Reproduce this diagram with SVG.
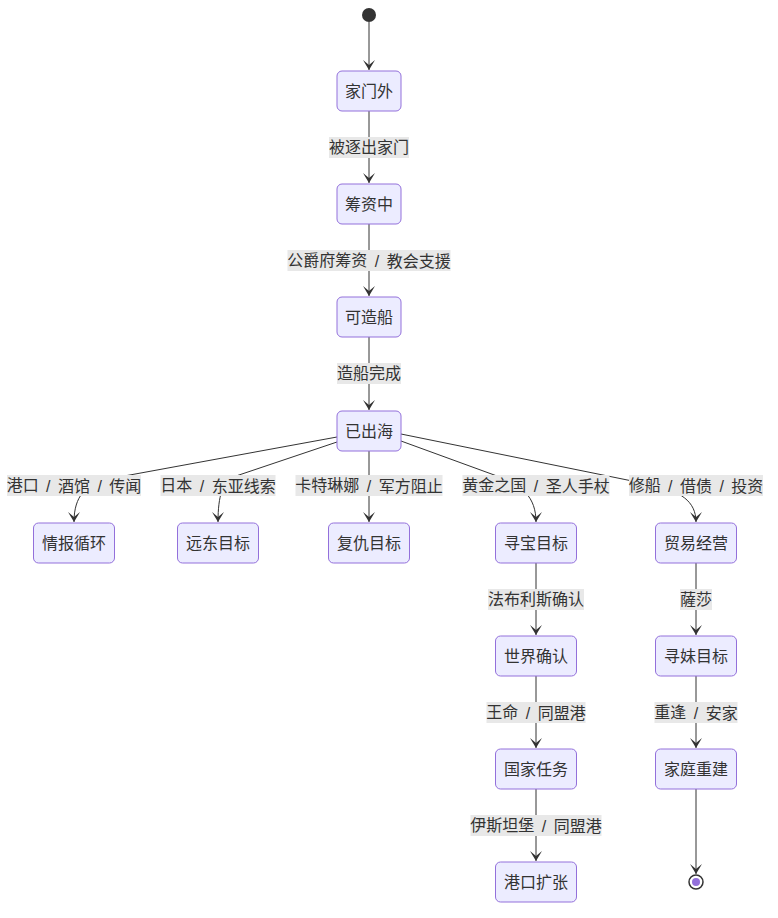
<svg xmlns="http://www.w3.org/2000/svg" width="778" height="918" viewBox="0 0 778 918">
<style>
.node rect{fill:#ECECFF;stroke:#9370DB;stroke-width:1}
.node text,.lbl text{font-family:"Liberation Sans","Noto Sans CJK SC",sans-serif;font-size:16px;fill:#333;text-anchor:middle;dominant-baseline:central}
.edge{fill:none;stroke:#333;stroke-width:1}
.lbl rect{fill:#e8e8e8}
</style>
<defs>
<marker id="barb" viewBox="0 0 20 14" refX="19" refY="7" markerWidth="20" markerHeight="14" markerUnits="userSpaceOnUse" orient="auto">
<path d="M19,7 L9,13 L14,7 L9,1 Z" fill="#333"/>
</marker>
</defs>
<rect width="778" height="918" fill="#fff"/>
<g id="connectors">
<path class="edge" marker-end="url(#barb)" d="M369,22 L369,70"/>
<path class="edge" marker-end="url(#barb)" d="M369,111 L369,183"/>
<path class="edge" marker-end="url(#barb)" d="M369,224 L369,296"/>
<path class="edge" marker-end="url(#barb)" d="M369,337 L369,410"/>
<path class="edge" marker-end="url(#barb)" d="M337,437 L108,479 C86,484 74,496 74,522"/>
<path class="edge" marker-end="url(#barb)" d="M337,442 L233,477 C223,482 218,495 218,522"/>
<path class="edge" marker-end="url(#barb)" d="M369,451 L369,522"/>
<path class="edge" marker-end="url(#barb)" d="M401,441 L497,476 C522,485 536,497 536,522"/>
<path class="edge" marker-end="url(#barb)" d="M401,434 L652,485 C680,491 696,501 696,522"/>
<path class="edge" marker-end="url(#barb)" d="M536,563 L536,635"/>
<path class="edge" marker-end="url(#barb)" d="M536,676 L536,748"/>
<path class="edge" marker-end="url(#barb)" d="M536,789 L536,861"/>
<path class="edge" marker-end="url(#barb)" d="M696,563 L696,635"/>
<path class="edge" marker-end="url(#barb)" d="M696,676 L696,748"/>
<path class="edge" marker-end="url(#barb)" d="M696,789 L696,874"/>
</g>
<g id="labels">
<g class="lbl"><rect x="329" y="137" width="80" height="21"/><text x="369" y="147.5">被逐出家门</text></g>
<g class="lbl"><rect x="287.5" y="250" width="163" height="21"/><text x="369" y="260.5">公爵府筹资 <tspan dx="3">/</tspan> <tspan dx="3">教会支援</tspan></text></g>
<g class="lbl"><rect x="337" y="363" width="64" height="21"/><text x="369" y="373.5">造船完成</text></g>
<g class="lbl"><rect x="7" y="475" width="134" height="21"/><text x="74" y="485.5">港口 <tspan dx="3">/</tspan> <tspan dx="3">酒馆</tspan> <tspan dx="3">/</tspan> <tspan dx="3">传闻</tspan></text></g>
<g class="lbl"><rect x="160.5" y="475" width="115" height="21"/><text x="218" y="485.5">日本 <tspan dx="3">/</tspan> <tspan dx="3">东亚线索</tspan></text></g>
<g class="lbl"><rect x="295.5" y="475" width="147" height="21"/><text x="369" y="485.5">卡特琳娜 <tspan dx="3">/</tspan> <tspan dx="3">军方阻止</tspan></text></g>
<g class="lbl"><rect x="462.5" y="475" width="147" height="21"/><text x="536" y="485.5">黄金之国 <tspan dx="3">/</tspan> <tspan dx="3">圣人手杖</tspan></text></g>
<g class="lbl"><rect x="629" y="475" width="134" height="21"/><text x="696" y="485.5">修船 <tspan dx="3">/</tspan> <tspan dx="3">借债</tspan> <tspan dx="3">/</tspan> <tspan dx="3">投资</tspan></text></g>
<g class="lbl"><rect x="488" y="589" width="96" height="21"/><text x="536" y="599.5">法布利斯确认</text></g>
<g class="lbl"><rect x="486.5" y="702" width="99" height="21"/><text x="536" y="712.5">王命 <tspan dx="3">/</tspan> <tspan dx="3">同盟港</tspan></text></g>
<g class="lbl"><rect x="470.5" y="815" width="131" height="21"/><text x="536" y="825.5">伊斯坦堡 <tspan dx="3">/</tspan> <tspan dx="3">同盟港</tspan></text></g>
<g class="lbl"><rect x="680" y="589" width="32" height="21"/><text x="696" y="599.5">薩莎</text></g>
<g class="lbl"><rect x="654.5" y="702" width="83" height="21"/><text x="696" y="712.5">重逢 <tspan dx="3">/</tspan> <tspan dx="3">安家</tspan></text></g>
</g>
<g id="start"><circle cx="369" cy="15" r="7" fill="#333"/></g>
<g id="n_jiamenwai" class="node"><rect x="337" y="71" width="64" height="40" rx="5"/><text x="369" y="91">家门外</text></g>
<g id="n_chouzizhong" class="node"><rect x="337" y="184" width="64" height="40" rx="5"/><text x="369" y="204">筹资中</text></g>
<g id="n_kezaochuan" class="node"><rect x="337" y="297" width="64" height="40" rx="5"/><text x="369" y="317">可造船</text></g>
<g id="n_yichuhai" class="node"><rect x="337" y="411" width="64" height="40" rx="5"/><text x="369" y="431">已出海</text></g>
<g id="n_qingbao" class="node"><rect x="33.5" y="523" width="81" height="40" rx="5"/><text x="74" y="543">情报循环</text></g>
<g id="n_yuandong" class="node"><rect x="177.5" y="523" width="81" height="40" rx="5"/><text x="218" y="543">远东目标</text></g>
<g id="n_fuchou" class="node"><rect x="328.5" y="523" width="81" height="40" rx="5"/><text x="369" y="543">复仇目标</text></g>
<g id="n_xunbao" class="node"><rect x="495.5" y="523" width="81" height="40" rx="5"/><text x="536" y="543">寻宝目标</text></g>
<g id="n_maoyi" class="node"><rect x="655.5" y="523" width="81" height="40" rx="5"/><text x="696" y="543">贸易经营</text></g>
<g id="n_shijie" class="node"><rect x="495.5" y="636" width="81" height="40" rx="5"/><text x="536" y="656">世界确认</text></g>
<g id="n_guojia" class="node"><rect x="495.5" y="749" width="81" height="40" rx="5"/><text x="536" y="769">国家任务</text></g>
<g id="n_gangkou" class="node"><rect x="495.5" y="862" width="81" height="40" rx="5"/><text x="536" y="882">港口扩张</text></g>
<g id="n_xunmei" class="node"><rect x="655.5" y="636" width="81" height="40" rx="5"/><text x="696" y="656">寻妹目标</text></g>
<g id="n_jiating" class="node"><rect x="655.5" y="749" width="81" height="40" rx="5"/><text x="696" y="769">家庭重建</text></g>
<g id="end"><circle cx="696" cy="882" r="7" fill="#fff" stroke="#333" stroke-width="1.5"/><circle cx="696" cy="882" r="4" fill="#9370DB"/></g>
</svg>
